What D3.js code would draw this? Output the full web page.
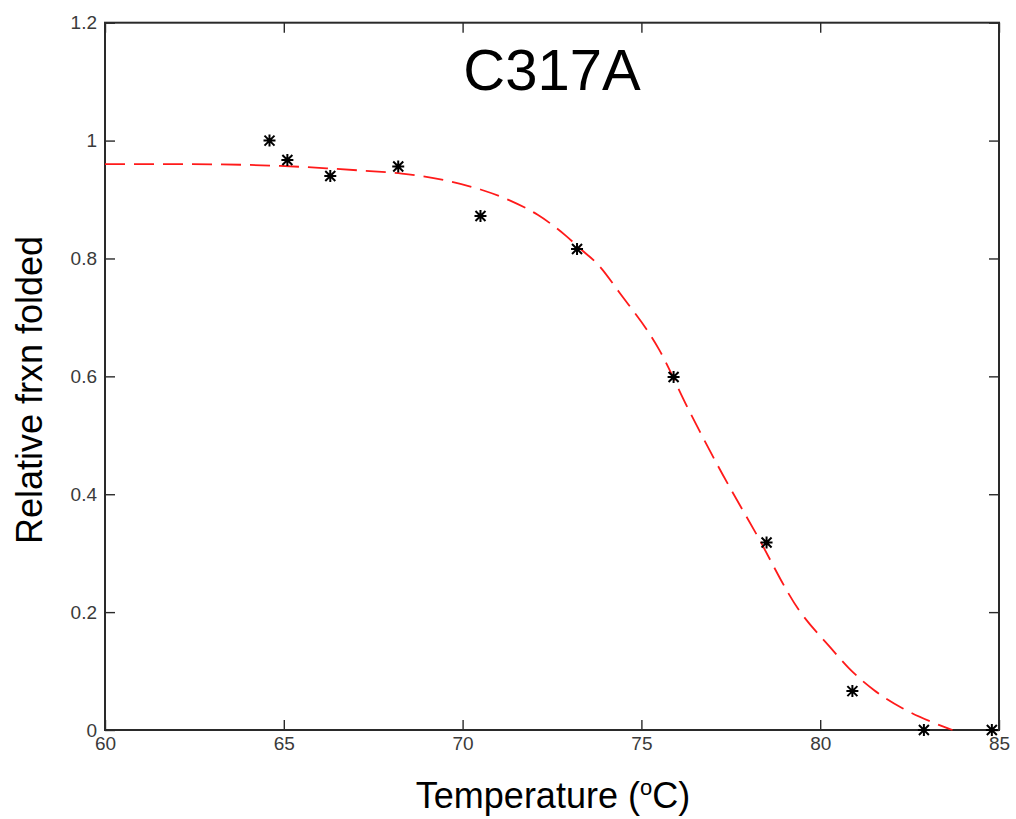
<!DOCTYPE html>
<html>
<head>
<meta charset="utf-8">
<script src="https://cdn.jsdelivr.net/npm/d3@7"></script>
<style>
  html, body { margin: 0; padding: 0; background: #fff; }
  svg { display: block; }
</style>
</head>
<body>
<svg id="chart" width="1016" height="819"></svg>
<script>
// Melting curve of the C317A mutant: measured points and fitted sigmoid
const titleText = "C317A";
const temps = [64.6, 65.1, 66.3, 68.2, 70.5, 73.2, 75.9, 78.5, 80.9, 82.9, 84.8];
const fracFolded = [1.0, 0.967, 0.940, 0.956, 0.872, 0.816, 0.599, 0.318, 0.066, 0, 0];

// Fitted curve, sampled along its length
const fitTemps = [60, 62, 63.8, 64.9, 66.2, 67.2, 68.3, 69.7, 70.5, 71.3, 72.1, 72.9, 73.3, 73.75, 74.4, 75.5, 76.3, 77.15, 78.2, 79.4, 80.3, 80.8, 81.5, 82.3, 83.1, 83.7];
const fitFrac = [0.960, 0.960, 0.959, 0.957, 0.953, 0.949, 0.944, 0.930, 0.917, 0.899, 0.874, 0.838, 0.816, 0.792, 0.741, 0.645, 0.546, 0.447, 0.334, 0.204, 0.139, 0.105, 0.068, 0.037, 0.014, 0.0];

const xTicks = [60, 65, 70, 75, 80, 85];
const yTicks = [0, 0.2, 0.4, 0.6, 0.8, 1, 1.2];
const yTickLabels = ["0", "0.2", "0.4", "0.6", "0.8", "1", "1.2"];

const svg = d3.select("#chart");
const plotLeft = 105, plotRight = 999, plotTop = 22.7, plotBottom = 730;

const x = d3.scaleLinear().domain([60, 85]).range([plotLeft, plotRight]);
const y = d3.scaleLinear().domain([0, 1.2]).range([plotBottom, plotTop]);

const axisColor = "#2a2a2a";
const tickLen = 10;
const tickFont = "'Liberation Sans', Arial, Helvetica, sans-serif";

// Tick marks on all four sides, pointing inward
const bottomAxis = d3.axisBottom(x).tickValues(xTicks).tickSizeInner(-tickLen).tickSizeOuter(0).tickFormat(d => d).tickPadding(7);
const topAxis = d3.axisTop(x).tickValues(xTicks).tickSizeInner(-tickLen).tickSizeOuter(0).tickFormat("");
const leftAxis = d3.axisLeft(y).tickValues(yTicks).tickSizeInner(-tickLen).tickSizeOuter(0)
  .tickFormat((d, i) => yTickLabels[i]).tickPadding(8);
const rightAxis = d3.axisRight(y).tickValues(yTicks).tickSizeInner(-tickLen).tickSizeOuter(0).tickFormat("");

function styleAxis(g) {
  g.select(".domain").remove();
  g.selectAll(".tick line").attr("stroke", axisColor).attr("stroke-width", 1.4);
  g.selectAll(".tick text")
    .attr("fill", "#3a3a3a")
    .style("font-family", tickFont)
    .style("font-size", "19px");
}

svg.append("g").attr("transform", `translate(0,${plotBottom})`).call(bottomAxis).call(styleAxis);
svg.append("g").attr("transform", `translate(0,${plotTop})`).call(topAxis).call(styleAxis);
svg.append("g").attr("transform", `translate(${plotLeft},0)`).call(leftAxis).call(styleAxis);
svg.append("g").attr("transform", `translate(${plotRight},0)`).call(rightAxis).call(styleAxis);

// Frame
svg.append("rect")
  .attr("x", plotLeft).attr("y", plotTop)
  .attr("width", plotRight - plotLeft).attr("height", plotBottom - plotTop)
  .attr("fill", "none").attr("stroke", axisColor).attr("stroke-width", 2);

// Fitted curve, dashed red
const fitData = fitTemps.map((t, i) => [t, fitFrac[i]]);
const line = d3.line().x(d => x(d[0])).y(d => y(d[1])).curve(d3.curveMonotoneX);
svg.append("path")
  .datum(fitData)
  .attr("d", line)
  .attr("fill", "none")
  .attr("stroke", "#ff1a1a")
  .attr("stroke-width", 1.8)
  .attr("stroke-dasharray", "20,9");

// Measured points as asterisks
const r = 6, rd = 5;
const star = `M${-r},0L${r},0M0,${-r}L0,${r}M${-rd},${-rd}L${rd},${rd}M${-rd},${rd}L${rd},${-rd}`;
svg.append("g").selectAll("path")
  .data(temps.map((t, i) => [t, fracFolded[i]]))
  .join("path")
  .attr("transform", d => `translate(${x(d[0])},${y(d[1])})`)
  .attr("d", star)
  .attr("stroke", "#000")
  .attr("stroke-width", 2)
  .attr("fill", "none");

// Title
svg.append("text")
  .attr("x", (plotLeft + plotRight) / 2).attr("y", 90)
  .attr("text-anchor", "middle")
  .style("font-family", "'Liberation Sans', Arial, Helvetica, sans-serif")
  .style("font-size", "58px")
  .attr("fill", "#000")
  .text(titleText);

// Axis titles
const xLabel = svg.append("text")
  .attr("x", 553).attr("y", 808)
  .attr("text-anchor", "middle")
  .style("font-family", "'Liberation Sans', Arial, Helvetica, sans-serif")
  .style("font-size", "36px")
  .attr("fill", "#000");
xLabel.append("tspan").text("Temperature (");
xLabel.append("tspan").attr("dy", -13).style("font-size", "22px").text("o");
xLabel.append("tspan").attr("dy", 13).text("C)");

svg.append("text")
  .attr("transform", "translate(42,390) rotate(-90)")
  .attr("text-anchor", "middle")
  .style("font-family", "'Liberation Sans', Arial, Helvetica, sans-serif")
  .style("font-size", "36px")
  .attr("fill", "#000")
  .text("Relative frxn folded");
</script>
</body>
</html>
